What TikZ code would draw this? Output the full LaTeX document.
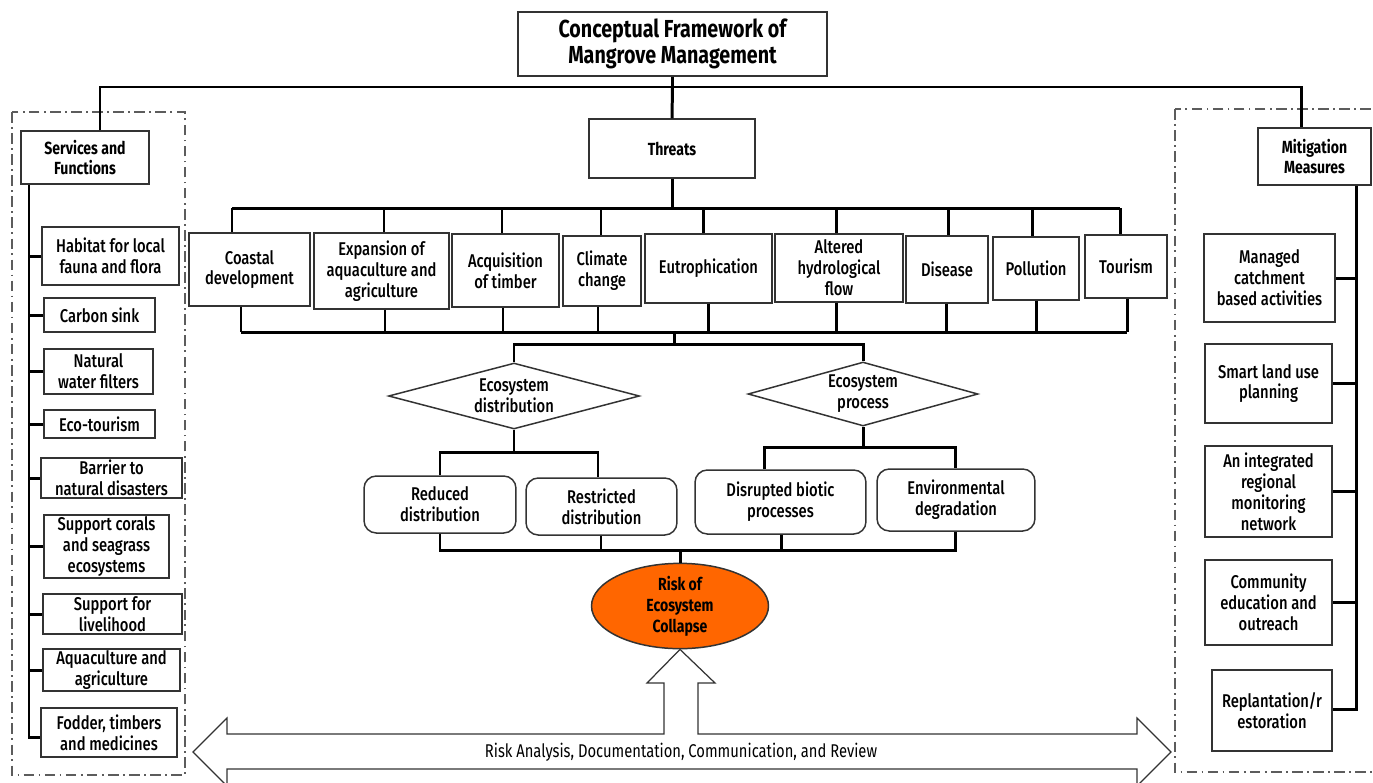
\documentclass[tikz,border=0pt]{standalone}
\usepackage{fontspec}
\setmainfont{Fira Sans Medium}[FakeStretch=0.8, BoldFont={Fira Sans Bold}]
\newfontfamily\plainfont{Fira Sans}[FakeStretch=0.8]
\usepackage{tikz}
\usetikzlibrary{shapes.geometric,positioning}
\definecolor{edge}{HTML}{333333}
\definecolor{collapse}{HTML}{FF6600}

\begin{document}
\begin{tikzpicture}[x=0.02cm, y=-0.02cm,
    box/.style={draw=edge, line width=0.85pt, align=center, inner sep=1pt,
        font=\fontsize{10.5}{11.9}\selectfont},
    head/.style={box, font=\bfseries\fontsize{10}{11.6}\selectfont},
    rbox/.style={box, rounded corners=7pt},
    choice/.style={draw=edge, line width=0.85pt, diamond, aspect=3.8, inner sep=0pt,
        align=center, font=\fontsize{10.5}{11.9}\selectfont},
    link/.style={line width=1.7pt, line join=miter},
    group/.style={draw=edge!80, line width=0.8pt,
        dash pattern=on 6pt off 2.5pt on 1pt off 2.5pt}]
    \path[use as bounding box, clip] (0,0) rectangle (1373,782);

    % Groups
    \draw[group] (12,112) rectangle (185,775);
    \draw[group] (1175,109) rectangle (1390,772);

    % Title and main branches
    \node[box, minimum width=6.18cm, minimum height=1.28cm,
        font=\bfseries\fontsize{14}{15}\selectfont] (title) at (672.5,44)
        {Conceptual Framework of\\Mangrove Management};
    \node[head, minimum width=3.32cm, minimum height=1.18cm] (thr) at (672,148.5) {Threats};
    \node[head, minimum width=2.56cm, minimum height=1.06cm] (serv) at (85,157.5) {Services and\\Functions};
    \node[head, minimum width=2.26cm, minimum height=1.14cm] (mit) at (1314.5,156.5) {Mitigation\\Measures};

    \coordinate (bl) at (100,87);
    \coordinate (br) at (1301,87);
    \draw[link] (title.south) -- (title.south |- bl);
    \draw[link] (serv.north -| bl) -- (bl) -- (br) -- (mit.north -| br);
    \draw[link] (title.south |- bl) -- (thr.north);

    % Services and functions
    \node[box, minimum width=2.74cm, minimum height=1.16cm] (s1) at (110.5,256) {Habitat for local\\fauna and flora};
    \node[box, minimum width=2.22cm, minimum height=0.68cm] (s2) at (99.5,315) {Carbon sink};
    \node[box, minimum width=2.18cm, minimum height=0.90cm] (s3) at (98.5,371.5) {Natural\\water filters};
    \node[box, minimum width=2.22cm, minimum height=0.56cm] (s4) at (99.5,424) {Eco-tourism};
    \node[box, minimum width=2.82cm, minimum height=0.80cm] (s5) at (111.5,478) {Barrier to\\natural disasters};
    \node[box, minimum width=2.50cm, minimum height=1.26cm] (s6) at (106.5,546.5) {Support corals\\and seagrass\\ecosystems};
    \node[box, minimum width=2.78cm, minimum height=0.80cm] (s7) at (112.5,614) {Support for\\livelihood};
    \node[box, minimum width=2.74cm, minimum height=0.80cm] (s8) at (111.5,670) {Aquaculture and\\agriculture};
    \node[box, minimum width=2.72cm, minimum height=0.98cm] (s9) at (109,732.5) {Fodder, timbers\\and medicines};

    \coordinate (ls) at (29,737);
    \draw[link] (serv.south -| ls) -- (ls) -- (s9.west |- ls);
    \foreach \n in {1,...,8}
        \draw[link] (s\n.west -| ls) -- (s\n.west);

    % Mitigation measures
    \node[box, minimum width=2.62cm, minimum height=1.76cm] (m1) at (1269.5,278) {Managed\\catchment\\based activities};
    \node[box, minimum width=2.54cm, minimum height=1.58cm] (m2) at (1268.5,383.5) {Smart land use\\planning};
    \node[box, minimum width=2.54cm, minimum height=1.82cm] (m3) at (1268.5,491.5) {An integrated\\regional\\monitoring\\network};
    \node[box, minimum width=2.54cm, minimum height=1.70cm] (m4) at (1268.5,602.5) {Community\\education and\\outreach};
    \node[box, minimum width=2.40cm, minimum height=1.62cm] (m5) at (1272,710.5) {Replantation/r\\estoration};

    \coordinate (rs) at (1356,709);
    \draw[link] (mit.south -| rs) -- (rs) -- (m5.east |- rs);
    \foreach \n in {1,...,4}
        \draw[link] (m\n.east -| rs) -- (m\n.east);

    % Threats
    \node[box, minimum width=2.42cm, minimum height=1.46cm] (t1) at (249.5,269.5) {Coastal\\development};
    \node[box, minimum width=2.70cm, minimum height=1.52cm] (t2) at (381.5,271) {Expansion of\\aquaculture and\\agriculture};
    \node[box, minimum width=2.14cm, minimum height=1.46cm] (t3) at (505.5,270.5) {Acquisition\\of timber};
    \node[box, minimum width=1.56cm, minimum height=1.40cm] (t4) at (602,271) {Climate\\change};
    \node[box, minimum width=2.54cm, minimum height=1.38cm] (t5) at (708.5,268.5) {Eutrophication};
    \node[box, minimum width=2.56cm, minimum height=1.36cm] (t6) at (839,268) {Altered\\hydrological\\flow};
    \node[box, minimum width=1.64cm, minimum height=1.34cm] (t7) at (947,269.5) {Disease};
    \node[box, minimum width=1.72cm, minimum height=1.26cm] (t8) at (1036,268.5) {Pollution};
    \node[box, minimum width=1.64cm, minimum height=1.26cm] (t9) at (1126,266.5) {Tourism};

    \foreach \n/\tx/\bx in {1/232/241, 2/384/385, 3/502/503, 4/601/598, 5/703/708,
                            6/836/836, 7/948/946, 8/1032/1036, 9/1120/1127} {
        \coordinate (tx\n) at (\tx,208);
        \coordinate (bx\n) at (\bx,332);
        \draw[link] (tx\n) -- (t\n.north -| tx\n);
        \draw[link] (t\n.south -| bx\n) -- (bx\n);
    }
    \draw[link] (tx1) -- (tx9);
    \draw[link] (bx1) -- (bx9);
    \draw[link] (thr.south) -- (thr.south |- tx1);

    % Ecosystem outcomes
    \node[choice, minimum width=5.02cm, minimum height=1.32cm] (d1) at (514,396) {Ecosystem\\distribution};
    \node[choice, minimum width=4.60cm, minimum height=1.28cm] (d2) at (863,394) {Ecosystem\\process};

    \coordinate (mb) at (674,344);
    \draw[link] (bx1 -| mb) -- (mb);
    \draw[link] (d1.north) -- (d1.north |- mb) -- (d2.north |- mb) -- (d2.north);

    \node[rbox, minimum width=3.04cm, minimum height=1.14cm] (r1) at (440,504.5) {Reduced\\distribution};
    \node[rbox, minimum width=3.02cm, minimum height=1.14cm] (r2) at (601.5,506.5) {Restricted\\distribution};
    \node[rbox, minimum width=3.42cm, minimum height=1.28cm] (r3) at (780.5,502) {Disrupted biotic\\processes};
    \node[rbox, minimum width=3.16cm, minimum height=1.24cm] (r4) at (956,500) {Environmental\\degradation};

    \coordinate (ra) at (440,452);
    \coordinate (rb) at (598,452);
    \coordinate (rc) at (764,447);
    \coordinate (rd) at (955,447);
    \draw[link] (d1.south) -- (d1.south |- ra);
    \draw[link] (r1.north -| ra) |- (rb) -- (r2.north -| rb);
    \draw[link] (d2.south) -- (d2.south |- rc);
    \draw[link] (r3.north -| rc) |- (rd) -- (r4.north -| rd);

    % Risk of collapse
    \node[ellipse, draw=edge, line width=0.85pt, fill=collapse, minimum width=3.54cm,
        minimum height=1.64cm, inner sep=0pt, align=center,
        font=\bfseries\fontsize{10}{12}\selectfont] (risk) at (680,606) {Risk of\\Ecosystem\\Collapse};

    \coordinate (q1) at (440,550);
    \coordinate (q2) at (601,550);
    \coordinate (q3) at (781,550);
    \coordinate (q4) at (955,550);
    \draw[link] (r1.south -| q1) -- (q1) -- (q4) -- (r4.south -| q4);
    \draw[link] (r2.south -| q2) -- (q2);
    \draw[link] (r3.south -| q3) -- (q3);
    \draw[link] (q1 -| risk) -- (risk.north);

    % Review arrow
    \draw[draw=edge, line width=0.7pt, fill=white, line join=miter]
        (193,752) -- (227,718) -- (227,734) -- (664,734) -- (664,683) -- (647,683)
        -- (risk.south) -- (715,683) -- (698,683) -- (698,734) -- (1137,734)
        -- (1137,718) -- (1171,752) -- (1137,786) -- (1137,769) -- (227,769)
        -- (227,786) -- cycle;
    \node[font=\plainfont\fontsize{10.5}{12}\selectfont] (rev) at (681,752)
        {Risk Analysis, Documentation, Communication, and Review};
\end{tikzpicture}
\end{document}
